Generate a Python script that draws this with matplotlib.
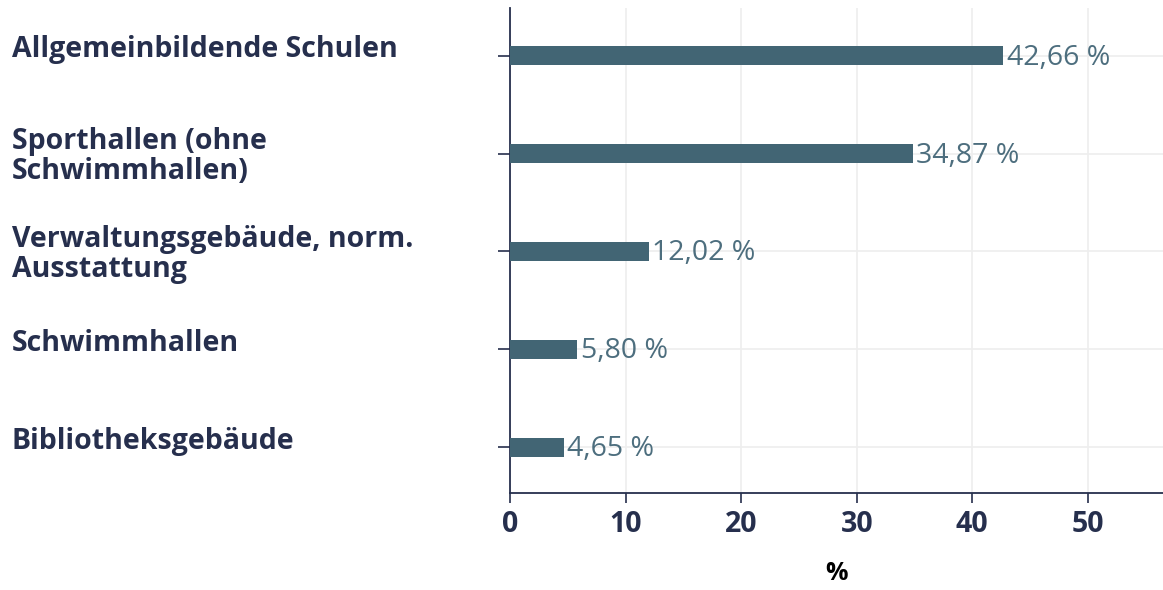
import matplotlib
matplotlib.use("Agg")
import matplotlib.pyplot as plt
import matplotlib.transforms as mtransforms

# Data
categories = [
    "Allgemeinbildende Schulen",
    "Sporthallen (ohne\nSchwimmhallen)",
    "Verwaltungsgebäude, norm.\nAusstattung",
    "Schwimmhallen",
    "Bibliotheksgebäude",
]
values = [42.66, 34.87, 12.02, 5.80, 4.65]
value_labels = ["42,66 %", "34,87 %", "12,02 %", "5,80 %", "4,65 %"]
x_ticks = [0, 10, 20, 30, 40, 50]

navy = "#262f4d"
bar_color = "#426574"
text_color = "#4d6e7e"

plt.rcParams["font.family"] = ["Open Sans", "DejaVu Sans"]

fig = plt.figure(figsize=(11.63, 5.90), dpi=100)
ax = fig.add_axes([510 / 1163, 1 - 493 / 590, (1163 - 510) / 1163, (493 - 8) / 590])

pos = list(range(len(categories)))
ax.barh(pos, values, height=0.195, color=bar_color, zorder=3)

for p, v, lab in zip(pos, values, value_labels):
    tr = ax.transData + mtransforms.ScaledTranslation(0, -2 / 100, fig.dpi_scale_trans)
    ax.text(v + 0.3, p, lab, transform=tr, va="center", ha="left", fontsize=20.5,
            color=text_color, zorder=4)

ax.set_xlim(0, 56.5)
ax.set_ylim(4.47, -0.49)
ax.set_xticks(x_ticks)
ax.set_xticklabels([str(t) for t in x_ticks], fontsize=20.5, fontweight="bold", color=navy)
ax.set_yticks(pos)
ax.set_yticklabels([""] * len(pos))

# category labels, left aligned at figure edge
for p, cat in zip(pos, categories):
    shift = -3 if "\n" in cat else 6
    tr = (mtransforms.blended_transform_factory(fig.transFigure, ax.transData)
          + mtransforms.ScaledTranslation(12 / 100, shift / 100, fig.dpi_scale_trans))
    ax.text(0, p, cat, transform=tr, va="center", ha="left", fontsize=20.5,
            fontweight="bold", color=navy, linespacing=1.03)

ax.grid(True, color="#eeeeee", linewidth=1.2, zorder=0)
for s in ["top", "right"]:
    ax.spines[s].set_visible(False)
for s in ["left", "bottom"]:
    ax.spines[s].set_color(navy)
    ax.spines[s].set_linewidth(1.3)
ax.tick_params(axis="y", length=9, width=1.2, color=navy)
ax.tick_params(axis="x", length=7, width=1.2, color=navy, pad=5)

ax.set_xlabel("%", fontsize=18, fontweight="bold", color="black", labelpad=16)

fig.savefig("out.png", dpi=100)
